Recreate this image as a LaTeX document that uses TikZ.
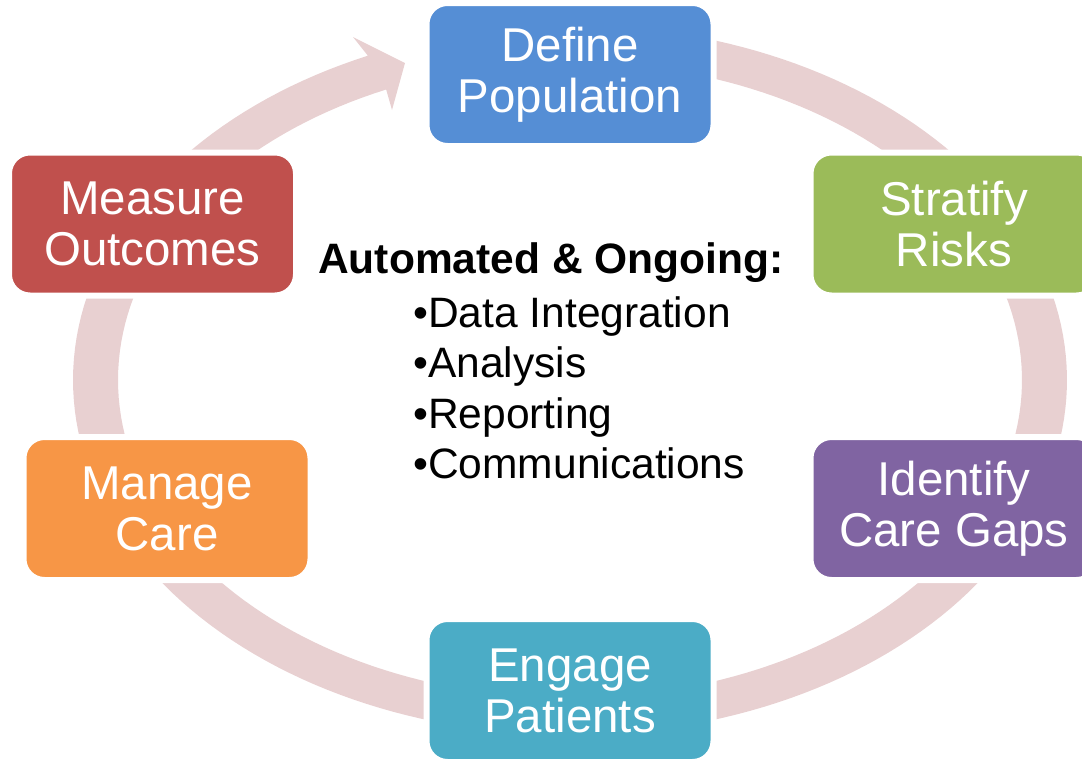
\documentclass[tikz,border=0pt]{standalone}
\usepackage{fontspec}
\setmainfont{Liberation Sans}
\definecolor{ringc}{HTML}{E8D0D1}
\definecolor{cblue}{HTML}{558ED5}
\definecolor{cgreen}{HTML}{9BBB59}
\definecolor{cpurple}{HTML}{8064A2}
\definecolor{cteal}{HTML}{4BACC6}
\definecolor{corange}{HTML}{F79646}
\definecolor{cred}{HTML}{C0504D}
\begin{document}
\begin{tikzpicture}[x=0.75pt,y=-0.75pt,
  stage/.style={draw=white, line width=4.5pt, rounded corners=15.75pt,
    minimum width=215.25pt, minimum height=107.25pt, inner sep=0pt,
    text=white, align=center, font=\fontsize{35.6}{38.3}\selectfont},
  ctext/.style={anchor=base west, inner sep=0pt, font=\fontsize{31.9}{38}\selectfont}]
\useasboundingbox (0,0) rectangle (1082,758);
\clip (0,0) rectangle (1082,758);
% cycle ring with arrowhead
\fill[ringc] plot[domain=114:450,samples=200] ({570+497*cos(\x)},{380-355*sin(\x)})
  -- plot[domain=450:114,samples=200] ({570+452*cos(\x)},{380-318*sin(\x)})
  -- (392,110) -- (405,63) -- (353,37) -- cycle;
% stages
\node[stage, fill=cblue]   (define)   at (570,74.5) {Define\\Population};
\node[stage, fill=cgreen]  (stratify) at (954,224)  {Stratify\\Risks};
\node[stage, fill=cpurple] (identify) at (954,508.5){Identify\\Care Gaps};
\node[stage, fill=cteal]   (engage)   at (570,690.5){Engage\\Patients};
\node[stage, fill=corange] (manage)   at (167,508.5){Manage\\Care};
\node[stage, fill=cred]    (measure)  at (152.5,224){Measure\\Outcomes};
% centre text
\node[ctext] (title) at (318,273) {\bfseries Automated \& Ongoing:};
\node[ctext] (b1) at (413,327) {•Data Integration};
\node[ctext] (b2) at (413,377.5) {•Analysis};
\node[ctext] (b3) at (413,428) {•Reporting};
\node[ctext] (b4) at (413,478.5) {•Communications};
\end{tikzpicture}
\end{document}
